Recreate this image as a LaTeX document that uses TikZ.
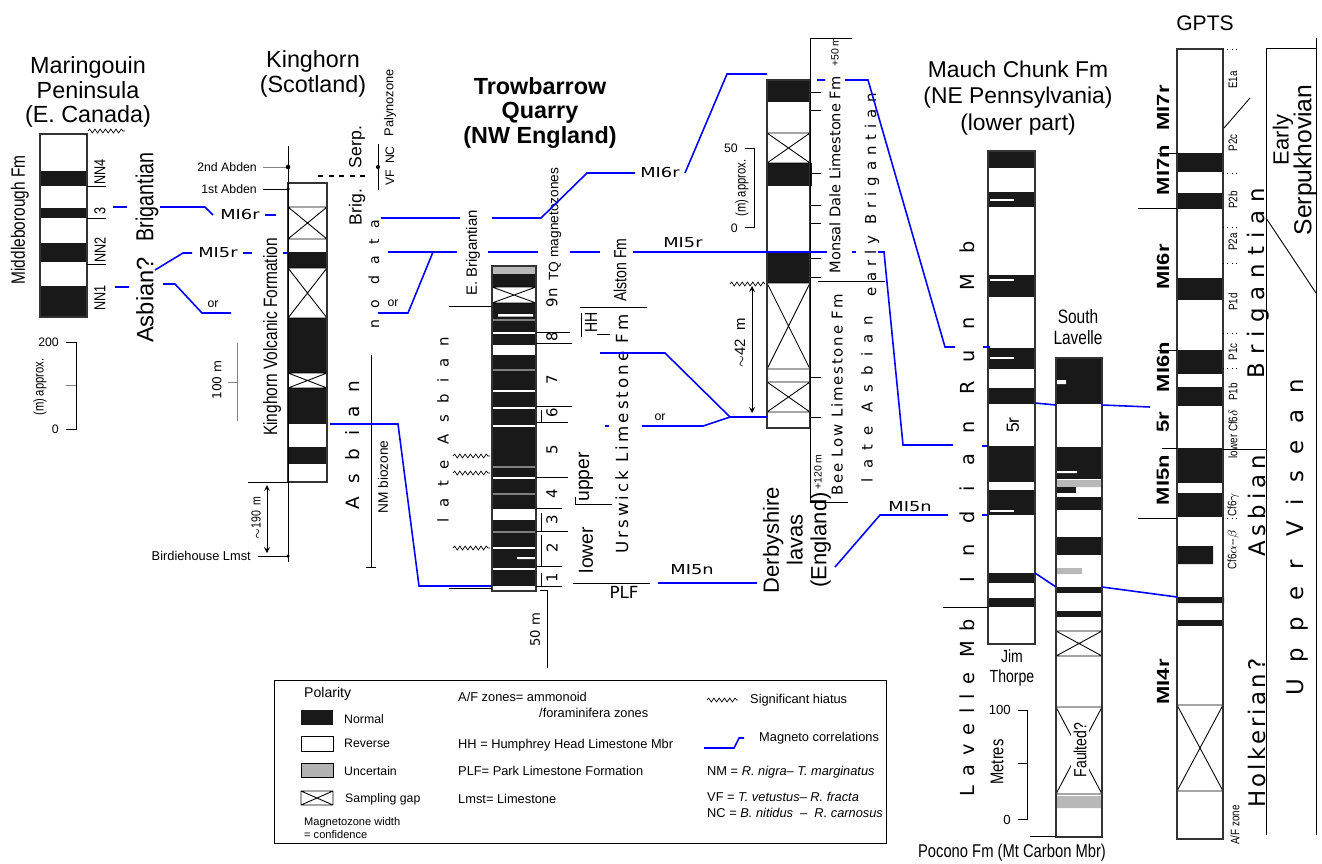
\documentclass[tikz,border=0pt]{standalone}
\usepackage{fontspec}
\setmainfont{Liberation Sans}
\newfontfamily\narrowf[FakeStretch=0.8]{Liberation Sans}
\newfontfamily\widef[FakeStretch=1.3]{DejaVu Sans}
\newfontfamily\gptsf[FakeStretch=1.25]{Liberation Sans}
\newfontfamily\dvf{DejaVu Sans}
\usetikzlibrary{decorations.pathmorphing}

\tikzset{
  colm/.style={draw=black!80, line width=0.6pt},
  normal/.style={fill=black!90},
  unsure/.style={fill=black!28},
  corr/.style={draw=blue, line width=0.9pt},
  thinline/.style={line width=0.5pt},
  hiatus/.style={line width=0.4pt, decorate, decoration={snake, amplitude=1.1pt, segment length=3pt}},
  vl/.style={rotate=90, inner sep=0pt},
  reg/.style={font=\fontsize{#1}{#1}\selectfont},
  nar/.style={font=\narrowf\fontsize{#1}{#1}\selectfont},
  dv/.style={font=\dvf\fontsize{#1}{#1}\selectfont},
  lsp/.style n args={2}{font=\dvf\fontsize{#1}{#1}\selectfont\addfontfeatures{LetterSpace=#2}},
  mi/.style={font=\widef\fontsize{7.8}{8}\selectfont, inner sep=1pt},
  gb/.style={font=\gptsf\bfseries\fontsize{10}{10}\selectfont},
  ttl/.style={font=\fontsize{13.3}{14}\selectfont, align=center, inner sep=0pt},
}

\begin{document}
\begin{tikzpicture}[x=0.02cm, y=-0.02cm]
\useasboundingbox (0,0) rectangle (1322,863);

% ---------------- Maringouin
\node[ttl] (martitle) at (88,92) {Maringouin\\Peninsula\\(E. Canada)};
\foreach \a/\b in {171/186, 208/218, 243/262, 286/317}
  \fill[normal] (40,\a) rectangle (87,\b);
\draw[colm] (40,134) rectangle (87,317);
\draw[hiatus] (88,131) -- (125,131);
\draw[thinline] (87,186) -- (106,186) (87,218) -- (106,218) (87,264) -- (106,264);
\node[vl, nar=9] (nn4) at (100,172) {NN4};
\node[vl, nar=9] (nn3) at (100,211) {3};
\node[vl, nar=9] (nn2) at (100,250) {NN2};
\node[vl, nar=9] (nn1) at (100,298) {NN1};
\node[vl, nar=11] (middle) at (20,220) {Middleborough Fm};
\node[vl, nar=14] (marbrig) at (147,197) {Brigantian};
\node[vl, reg=13.5] (marasb) at (145,300) {Asbian?};
\draw[thinline] (66,342) -- (76,342) -- (76,429) -- (66,429);
\draw[thinline, gray] (66,385) -- (76,385);
\node[reg=7, anchor=east] (mar200) at (65,342) {200};
\node[reg=7, anchor=east] (mar0) at (65,429) {0};
\node[vl, nar=8] (marscale) at (40,387) {(m)\,approx.};

% ---------------- Kinghorn
\node[ttl] (kintitle) at (313,74) {Kinghorn\\(Scotland)};
\foreach \a/\b in {252/268, 318/373, 388/424, 447/464}
  \fill[normal] (288,\a) rectangle (327,\b);
\foreach \a/\b in {207/239, 268/318, 373/388}
  \draw[thinline] (288,\a) rectangle (327,\b) (288,\a) -- (327,\b) (288,\b) -- (327,\a);
\draw[colm] (288,183) rectangle (327,482);
\draw[thinline] (288,146) -- (288,562);
\draw[thinline, gray] (263,167) -- (288,167);
\draw[thinline] (263,189) -- (288,189) (248,482) -- (288,482) (258,556) -- (288,556);
\fill (288,167) circle (1.3pt) (288,189) circle (1pt) (288,556) circle (1pt);
\node[reg=7, anchor=east] (abd2) at (263,167) {2nd Abden};
\node[reg=7, anchor=east] (abd1) at (263,189) {1st Abden};
\node[reg=7.3, anchor=east] (birdie) at (257,556) {Birdiehouse Lmst};
\draw[thinline, <->, >=stealth] (267,485) -- (267,553);
\node[vl, nar=7.5] (k190) at (256,518) {$\sim$190\ \ m};
\node[vl, nar=11] (kvf) at (272,337) {Kinghorn Volcanic Formation};
\draw[thinline, gray] (237,343) -- (237,421) (228,382) -- (237,382);
\node[vl, dv=7] (k100) at (217,380) {100 m};
\draw[dashed, line width=1.4pt] (318,176) -- (368,176);
\node[vl, reg=10] (serp) at (357,147) {Serp.};
\node[vl, reg=10] (brig) at (357,207) {Brig.};
\draw[thinline] (378,144) -- (378,190);
\fill (378,167) circle (1.2pt);
\node[vl, reg=7] (vf) at (390,178) {VF};
\node[vl, reg=7] (nc) at (390,155) {NC};
\node[vl, reg=7.3] (paly) at (390,103) {Palynozone};
\node[vl, lsp={8}{78}] (nodata) at (374,274) {no data};
\node[vl, lsp={10.5}{72}] (kasb) at (353,445) {Asbian};
\draw[thinline] (371,355) -- (371,567) (366,567) -- (376,567);
\node[vl, reg=7.8] (nmbio) at (383,477) {NM biozone};

% ---------------- Trowbarrow
\node[ttl, font=\bfseries\fontsize{13.3}{14.2}\selectfont] (trtitle) at (540,113) {Trowbarrow\\Quarry\\(NW England)};
\fill[unsure] (492,266) rectangle (536,274);
\fill[normal] (492,274) rectangle (536,287);
\fill[normal] (492,303) rectangle (536,586);
\foreach \a/\b in {332/334, 345/355, 390/392, 407/409, 425/427, 477/478.5, 509/520, 547/548.5, 568/570}
  \fill[white] (492,\a) rectangle (536,\b);
\fill[white] (498,314) rectangle (533,316.5) (517,557) rectangle (535,559);
\foreach \a in {320, 370, 467, 494, 532}
  \draw[gray, line width=0.8pt] (492,\a) -- (536,\a);
\draw[thinline] (492,287) rectangle (536,303) (492,287) -- (536,303) (492,303) -- (536,287);
\draw[colm] (492,266) rectangle (536,591);
\foreach \a/\b in {332/570, 343/572, 406/572, 422/568, 477/568, 508/562, 531/568, 566/562, 586/562}
  \draw[thinline] (536,\a) -- (\b,\a);
\draw[thinline] (541,410) -- (541,422) (541,513) -- (541,531) (541,535) -- (541,566) (541,573) -- (541,586);
\foreach \y/\z in {298/9n, 337/8, 380/7, 413/6, 450/5, 494/4, 520/3, 548/2, 578/1}
  \node[vl, dv=8.5] (tq\z) at (552,\y) {\z};
\draw[thinline] (449,306) -- (492,306) (449,588) -- (492,588);
\node[vl, reg=8.5] (ebrig) at (473,253) {E. Brigantian};
\node[vl, reg=7.8] (tqmag) at (555,224) {TQ magnetozones};
\node[vl, lsp={8.5}{76}] (trlate) at (443,430) {late Asbian};
\node[vl, nar=10] (alston) at (620,270) {Alston Fm};
\draw[thinline] (580,307) -- (647,307);
\node[vl, nar=10] (hh) at (591,322) {HH};
\draw[thinline] (581,313) -- (581,337) (597,334) -- (610,334);
\node[vl, lsp={9.5}{18}] (urs) at (622,434) {Urswick Limestone Fm};
\node[vl, reg=11] (upper) at (586,477) {upper};
\node[vl, reg=11] (lower) at (586,550) {lower};
\draw[thinline] (575,504) -- (612,504) (575,497) -- (575,504);
\draw[thinline] (573,583) -- (650,583);
\node[dv=9.5] (plf) at (624,592) {PLF};
\draw[hiatus] (453,456) -- (490,456);
\draw[hiatus] (453,473) -- (490,473);
\draw[hiatus] (453,548) -- (490,548);
\draw[thinline] (540,590) -- (547,590) -- (547,668);
\node[vl, dv=7.5] (tr50) at (535,630) {50 m};

% ---------------- Derbyshire
\foreach \a/\b in {80/102, 163/186, 252/283}
  \fill[normal] (767,\a) rectangle (810,\b);
\fill[normal] (767,163) rectangle (812,186);
\foreach \a/\b in {133/163, 283/369, 382/412}
  \draw[thinline] (767,\a) rectangle (810,\b) (767,\a) -- (810,\b) (767,\b) -- (810,\a);
\draw[colm] (767,80) rectangle (810,428);
\draw[thinline] (852,38) -- (810,38) -- (810,502) -- (848,502);
\foreach \y in {92,110,173,205,223,258,277,377,417}
  \draw[thinline] (810,\y) -- (821,\y);
\draw[thinline] (818,281) -- (885,281);
\node[vl, dv=8.3] (monsal) at (835,175) {Monsal Dale Limestone Fm};
\node[vl, lsp={8.5}{40}] (ebrig2) at (872,195) {early Brigantian};
\node[vl, lsp={8.5}{12}] (beelow) at (837,395) {Bee Low Limestone Fm};
\node[vl, lsp={8.5}{62}] (dlate) at (867,399) {late Asbian};
\node[vl, reg=6] (d50) at (835,52) {+50 m};
\node[vl, reg=6] (d120) at (818,472) {+120 m};
\draw[thinline] (745,148) -- (754,148) -- (754,227) -- (745,227);
\node[reg=7, anchor=east] (ds50) at (744,148) {50};
\node[reg=7, anchor=east] (ds0) at (744,228) {0};
\node[vl, nar=8] (dscale) at (742,188) {(m)\,approx.};
\draw[hiatus] (730,284) -- (765,284);
\draw[thinline, <->, >=stealth] (752,286) -- (752,413);
\node[vl, reg=8.5] (d42) at (740,343) {$\sim$42\ \ m};
\node[vl, font=\fontsize{12.5}{13.5}\selectfont, align=center] (derby) at (797,540) {Derbyshire\\lavas\\(England)};

% ---------------- Mauch Chunk
\node[ttl, font=\fontsize{13}{15}\selectfont] (mctitle) at (1018,98) {Mauch Chunk Fm\\(NE Pennsylvania)\\(lower part)};
\foreach \a/\b in {151/168, 192/207, 275/297, 348/369, 388/404, 446/482, 490/515, 573/583, 598/607}
  \fill[normal] (988,\a) rectangle (1035,\b);
\foreach \y in {200, 280, 358, 511}
  \fill[white] (990,\y-1.3) rectangle (1014,\y+1.3);
\draw[colm] (988,151) rectangle (1035,644);
\node[vl, reg=10] (fiver) at (1013,425) {5r};
\node[align=center, font=\narrowf\fontsize{10}{11}\selectfont] (jim) at (1012,668) {Jim\\Thorpe};
\draw[thinline] (943,607) -- (988,607);
\node[vl, lsp={11}{105}] (indian) at (967,412) {Indian Run Mb};
\node[vl, lsp={11}{48}] (lavelle) at (967,708) {Lavelle Mb};
\draw[thinline] (1018,710) -- (1027,710) -- (1027,819) -- (1018,819) (1018,763) -- (1027,763);
\node[reg=7.5, anchor=east] (m100) at (1017,710) {100};
\node[reg=7.5, anchor=east] (m0) at (1017,820) {0};
\node[vl, nar=10.5] (metres) at (997,762) {Metres};
% South Lavelle
\node[align=center, font=\narrowf\fontsize{11}{11.5}\selectfont] (sltitle) at (1078,327) {South\\Lavelle};
\foreach \a/\b in {358/404, 447/479, 497/510, 537/555, 587/593, 611/617}
  \fill[normal] (1056,\a) rectangle (1102,\b);
\fill[white] (1057,380) rectangle (1066,384) (1057,471) rectangle (1077,473);
\fill[unsure] (1056,480) rectangle (1102,487) (1056,568) rectangle (1082,574) (1056,796) rectangle (1102,808);
\fill[normal] (1057,487) rectangle (1076,493);
\foreach \a/\b in {631/656, 707/794}
  \draw[thinline] (1056,\a) rectangle (1102,\b) (1056,\a) -- (1102,\b) (1056,\b) -- (1102,\a);
\draw[colm] (1056,358) rectangle (1102,837);
\node[vl, nar=10, fill=white, inner sep=1.5pt] (faulted) at (1080,750) {Faulted?};
\draw[thinline] (1030,836) -- (1056,836);
\node[font=\narrowf\fontsize{10.5}{11}\selectfont] (pocono) at (1012,853) {Pocono Fm (Mt Carbon Mbr)};

% ---------------- GPTS
\node[reg=12] (gpts) at (1205,23) {GPTS};
\foreach \a/\b in {153/172, 193/209, 278/300, 350/374, 387/406, 448/483, 493/517, 620/626}
  \fill[normal] (1177,\a) rectangle (1223,\b);
\fill[normal] (1177,597) rectangle (1224,603) (1177,546) rectangle (1213,564);
\draw[thinline] (1177,705) rectangle (1223,791) (1177,705) -- (1223,791) (1177,791) -- (1223,705);
\draw[colm] (1177,49) rectangle (1223,839);
\foreach \y/\z in {108/MI7r, 170/MI7n, 267/MI6r, 367/MI6n, 422/5r, 480/MI5n, 682/MI4r}
  \node[vl, gb] (g\z) at (1163,\y) {\z};
\draw[thinline] (1138,208) -- (1177,208) (1138,518) -- (1177,518);
\draw[thinline] (1158,153) -- (1177,153) (1158,350) -- (1177,350) (1162,448) -- (1177,448);
\foreach \y/\z in {80/E1a, 143/P2c, 200/P2b, 242/P2a, 302/P1d, 352/P1c, 392/P1b, 434/lower Cf6$\delta$, 505/Cf6$\gamma$, 550/Cf6$\alpha$--$\beta$}
  \node[vl, nar=7] at (1233,\y) {\z};
\node[vl, nar=7] (afzone) at (1235,825) {A/F zone};
\foreach \y in {49, 173, 227, 263, 333, 368, 518}
  \draw[dotted, line width=0.5pt] (1223,\y) -- (1239,\y);
\draw[thinline] (1224,128) -- (1250,98);
\draw[thinline] (1266,48) -- (1266,835) (1316,38) -- (1316,835) (1266,48) -- (1316,48);
\draw[thinline] (1266,218) -- (1316,293);
\draw[thinline] (1223,449) -- (1266,449);
\node[vl, lsp={13}{35}] (gbrig) at (1258,283) {Brigantian};
\node[vl, lsp={13}{22}] (gasb) at (1257,506) {Asbian};
\node[vl, lsp={13}{14}] (ghol) at (1257,733) {Holkerian?};
\node[vl, lsp={13}{72}] (gvis) at (1297,537) {Upper Visean};
\node[vl, reg=12.5] (early) at (1283,140) {Early};
\node[vl, reg=14] (serpuk) at (1305,160) {Serpukhovian};

% ---------------- magneto correlations
\draw[corr] (113,207) -- (127,207);
\draw[corr] (115,287) -- (129,287);
\draw[corr] (160,207) -- (205,207) -- (213,215);
\node[mi] (mi6a) at (240,215) {MI6r};
\draw[corr] (265,215) -- (276,215);
\draw[corr] (155,270) -- (183,253) -- (192,253);
\node[mi] (mi5a) at (218,253) {MI5r};
\draw[corr] (243,253) -- (252,253) (283,253) -- (288,253);
\draw[corr] (163,284) -- (175,284) -- (202,313) -- (231,313);
\node[reg=7] (or1) at (213,304) {or};
\draw[corr] (381,218) -- (460,218) (492,218) -- (541,218) -- (587,173) -- (635,173);
\node[mi] (mi6b) at (660,173) {MI6r};
\draw[corr] (685,173) -- (727,74) -- (767,74);
\draw[corr] (817,80) -- (825,80) (845,80) -- (868,80) -- (945,347) -- (955,347) (983,347) -- (990,347);
\draw[corr] (388,252) -- (457,252) (488,252) -- (538,252) (570,252) -- (600,252) (633,252) -- (827,252) (852,252) -- (856,252);
\node[mi] (mi5b) at (683,243) {MI5r};
\draw[corr] (878,252) -- (884,252) -- (903,445) -- (953,445) (982,446) -- (988,446);
\draw[corr] (433,252) -- (408,313) -- (378,313);
\node[reg=7] (or2) at (393,303) {or};
\draw[corr] (330,424) -- (398,424) -- (419,586) -- (492,586);
\draw[corr] (600,353) -- (665,353) -- (730,417) -- (767,417);
\draw[corr] (605,426) -- (609,426) (642,426) -- (703,426) -- (730,417);
\node[reg=7] (or3) at (660,417) {or};
\draw[corr] (658,583) -- (757,583);
\node[mi] (mi5n) at (692,570) {MI5n};
\draw[corr] (835,567) -- (880,515) -- (948,515) (982,515) -- (988,515);
\node[mi] (mi5n2) at (910,507) {MI5n};
\draw[corr] (1035,403) -- (1056,405) (1102,405) -- (1150,407);
\draw[corr] (1035,573) -- (1056,587) (1102,587) -- (1177,597);

% ---------------- legend
\draw[thinline] (274,680) rectangle (886,843);
\node[reg=8, anchor=west] (lpol) at (298,694) {Polarity};
\fill[normal] (301,710) rectangle (333,725);
\draw[thinline] (301,736) rectangle (333,751);
\filldraw[thinline, fill=black!30] (301,763) rectangle (333,777);
\draw[thinline] (301,791) rectangle (333,805) (301,791) -- (333,805) (301,805) -- (333,791);
\node[reg=7, anchor=west] (lnor) at (338,719) {Normal};
\node[reg=7, anchor=west] (lrev) at (338,743) {Reverse};
\node[reg=7, anchor=west] (lunc) at (338,771) {Uncertain};
\node[reg=7, anchor=west] (lgap) at (339,799) {Sampling gap};
\node[anchor=west, align=left, font=\fontsize{6.3}{7.3}\selectfont] (lwid) at (298,828) {Magnetozone width\\= confidence};
\node[reg=7.3, anchor=west] (laf) at (452,697) {A/F zones= ammonoid};
\node[reg=7.3, anchor=west] (laf2) at (533,713) {/foraminifera zones};
\node[reg=7.3, anchor=west] (lhh) at (452,745) {HH = Humphrey Head Limestone Mbr};
\node[reg=7.3, anchor=west] (lplf) at (452,771) {PLF= Park Limestone Formation};
\node[reg=7.3, anchor=west] (llm) at (452,799) {Lmst= Limestone};
\draw[hiatus] (707,700) -- (738,700);
\node[reg=7.3, anchor=west] (lhia) at (744,700) {Significant hiatus};
\draw[corr] (704,748) -- (734,748) -- (739,738) -- (744,738);
\node[reg=7.3, anchor=west] (lcor) at (753,738) {Magneto correlations};
\node[reg=7.3, anchor=west] (lnm) at (701,772) {NM = \textit{R. nigra}-- \textit{T. marginatus}};
\node[reg=7.3, anchor=west] (lvf) at (701,797) {VF = \textit{T. vetustus}-- \textit{R. fracta}};
\node[reg=7.3, anchor=west] (lnc) at (701,813) {NC = \textit{B. nitidus} \ -- \ \textit{R. carnosus}};
\end{tikzpicture}
\end{document}
